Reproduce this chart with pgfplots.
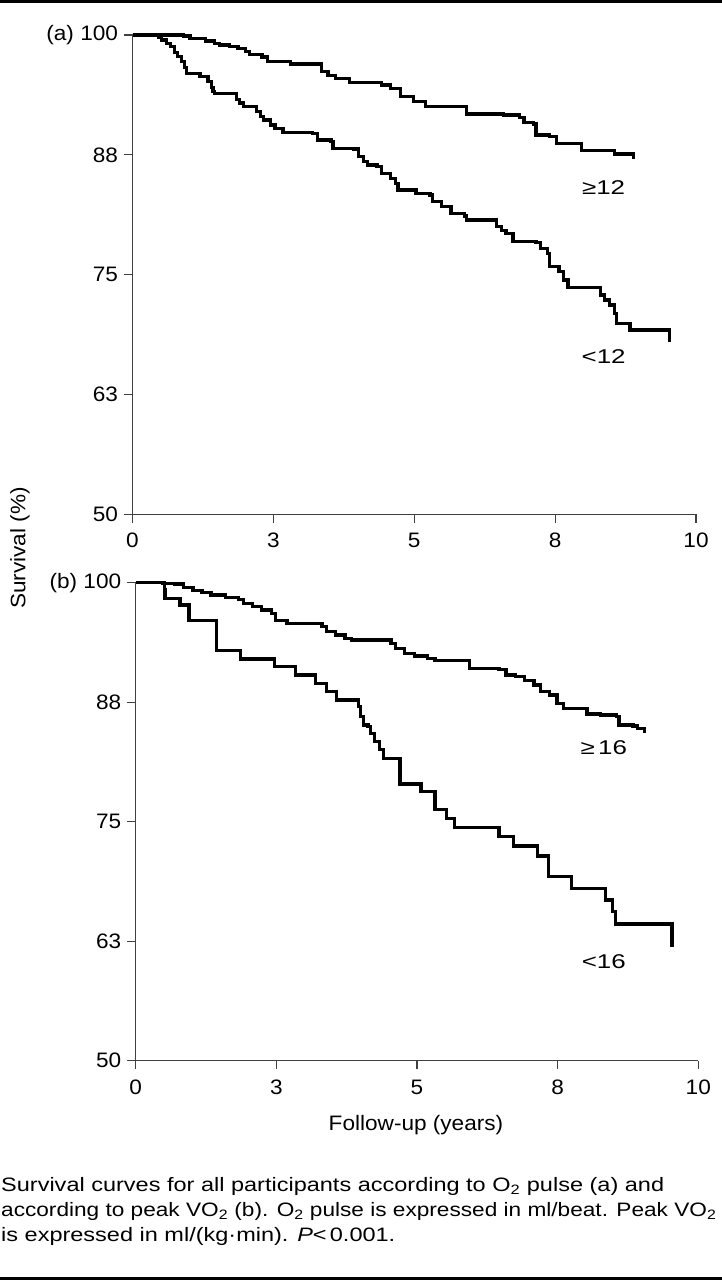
\documentclass[border=0pt]{standalone}
\usepackage{pgfplots}
\pgfplotsset{compat=1.18}
\usepackage{fontspec}
\setmainfont{Liberation Sans}
\newfontfamily\axfont{Liberation Sans}[FakeStretch=1.08]
\newfontfamily\labfont{Liberation Sans}[FakeStretch=1.3]
\newfontfamily\capfontA{Liberation Sans}[FakeStretch=1.21]
\newfontfamily\capfontB{Liberation Sans}[FakeStretch=1.165]
\definecolor{axgray}{RGB}{64,64,64}
\pgfplotsset{
  km/.style={
    scale only axis,
    xmin=0, xmax=10, ymin=50, ymax=100,
    axis lines=left,
    axis line style={-, line width=1.2bp, draw=axgray},
    tick style={line width=1.2bp, draw=axgray},
    tick align=outside,
    major tick length=8.5bp,
    xtick={0,2.5,5,7.5,10},
    xticklabels={0,3,5,8,10},
    ytick={50,62.5,75,87.5,100},
    tick label style={font=\axfont\fontsize{21}{21}\selectfont, text=black},
    xticklabel style={yshift=-7bp},
    yticklabel style={xshift=-2.5bp},
    clip=false,
  },
  curve/.style={const plot, line width=3.3bp, black, mark=none, line join=miter},
}
\tikzset{lab/.style={font=\labfont\fontsize{20}{20}\selectfont, anchor=center}}
\begin{document}
\begin{tikzpicture}
\useasboundingbox (0,0) rectangle (722bp,-1280bp);
\draw[line width=2.7bp] (0,-1.35bp) -- (722bp,-1.35bp);
\draw[line width=2.7bp] (0,-1278.5bp) -- (722bp,-1278.5bp);

% Panel (a)
\begin{axis}[km, at={(132.5bp,-514.3bp)}, anchor=south west,
  width=563.5bp, height=479.3bp,
  yticklabels={50,63,75,88,{(a) 100}}]
\addplot[curve] coordinates {
(0,100) (0.91,99.9) (1.02,99.65) (1.29,99.37) (1.46,99.13) (1.55,98.96) (1.72,98.78)
(1.87,98.6) (2.00,98.3) (2.08,97.97) (2.30,97.7) (2.40,97.2) (2.80,96.97)
(3.36,96.18) (3.47,95.8) (3.60,95.48) (3.85,95.03) (4.42,94.78) (4.58,94.44)
(4.75,93.57) (4.99,93.05) (5.20,92.52) (5.93,91.76) (6.58,91.66) (6.87,91.41)
(6.95,90.86) (7.12,90.72) (7.16,89.57) (7.40,89.4) (7.52,88.70) (7.97,87.93)
(8.55,87.59) (8.89,87.59) (8.891,87.03)
};
\addplot[curve] coordinates {
(0,100) (0.46,99.8) (0.52,99.48) (0.60,99.13) (0.68,98.78) (0.74,98.2) (0.80,97.74)
(0.87,97.2) (0.92,96.6) (0.96,96.0) (1.20,95.65) (1.34,95.13) (1.40,94.5) (1.43,94.09)
(1.46,93.92) (1.85,93.3) (1.90,92.9) (1.97,92.52) (2.20,92.0) (2.27,91.48)
(2.32,91.13) (2.45,90.61) (2.53,90.26) (2.67,89.85) (3.19,89.74) (3.28,89.05)
(3.52,88.87) (3.56,88.18) (3.93,88.11) (4.01,87.31) (4.10,86.8) (4.17,86.44)
(4.34,86.27) (4.42,85.57) (4.58,85.05) (4.67,84.53) (4.71,83.83) (5.03,83.48)
(5.28,83.31) (5.32,82.61) (5.48,82.09) (5.65,81.40) (5.89,81.12) (5.93,80.70)
(6.42,80.70) (6.46,80.01) (6.55,79.6) (6.63,79.31) (6.75,78.44) (7.16,78.34)
(7.24,77.75) (7.36,77.23) (7.40,75.83) (7.57,75.31) (7.65,74.44) (7.73,73.68)
(8.30,72.88) (8.38,72.36) (8.46,71.84) (8.55,70.97) (8.59,69.92) (8.83,69.23)
(9.53,69.23) (9.531,68.01)
};
\node[lab] at (axis cs:8.36,84.1) {≥12};
\node[lab] at (axis cs:8.36,66.45) {<12};
\end{axis}

% Panel (b)
\begin{axis}[km, at={(135.7bp,-1060.7bp)}, anchor=south west,
  width=562.6bp, height=478bp,
  yticklabels={50,63,75,88,{(b) 100}}]
\addplot[curve] coordinates {
(0,100) (0.48,99.95) (0.69,99.85) (0.85,99.51) (1.02,99.16) (1.18,98.95) (1.34,98.71)
(1.59,98.47) (1.83,98.26) (1.92,97.84) (2.08,97.49) (2.24,97.14) (2.41,96.79)
(2.49,96.03) (2.69,95.75) (3.23,95.75) (3.31,95.40) (3.39,94.87) (3.55,94.53)
(3.72,94.18) (3.84,94.00) (4.41,94.00) (4.54,93.65) (4.62,93.13) (4.78,92.61)
(4.95,92.33) (5.19,92.09) (5.32,91.84) (5.93,91.04) (6.46,90.93) (6.58,90.34)
(6.75,90.17) (6.91,89.75) (7.08,89.30) (7.20,88.60) (7.36,88.25) (7.49,87.38)
(7.61,86.85) (8.02,86.26) (8.26,86.16) (8.55,85.98) (8.59,85.11) (8.84,85.01)
(8.92,84.76) (9.04,84.76) (9.041,84.31)
};
\addplot[curve] coordinates {
(0,100) (0.48,100) (0.51,99.23) (0.52,98.36) (0.79,97.66) (0.95,96.03) (1.43,92.89)
(1.86,92.02) (2.47,91.21) (2.84,90.34) (3.19,89.47) (3.39,88.60) (3.57,87.73)
(3.96,87.03) (4.00,85.98) (4.05,85.11) (4.13,84.94) (4.17,84.24) (4.25,83.37)
(4.33,82.57) (4.41,81.62) (4.70,78.94) (5.07,78.14) (5.32,76.29) (5.52,75.35)
(5.67,74.41) (6.46,73.43) (6.71,72.45) (7.14,71.41) (7.34,69.25) (7.75,68.03)
(8.35,66.81) (8.47,65.59) (8.53,64.30) (9.53,64.30) (9.531,61.92)
};
\node[lab] at (axis cs:8.32,82.7) {≥\,16};
\node[lab] at (axis cs:8.32,60.4) {<16};
\end{axis}

\node[font=\axfont\fontsize{21}{21}\selectfont, rotate=90] at (20bp,-548bp) {Survival (\%)};
\node[font=\axfont\fontsize{21}{21}\selectfont, anchor=base] at (416bp,-1130bp) {Follow-up (years)};

\begin{scope}[every node/.style={anchor=base west, inner sep=0pt}]
\node[font=\capfontA\fontsize{19.5}{19.5}\selectfont] at (1bp,-1191.7bp) {Survival curves for all participants according to O\textsubscript{2} pulse (a) and};
\node[font=\capfontB\fontsize{19.5}{19.5}\selectfont] at (1bp,-1216.7bp) {according to peak VO\textsubscript{2} (b). O\textsubscript{2} pulse is expressed in ml/beat. Peak VO\textsubscript{2}};
\node[font=\capfontA\fontsize{19.5}{19.5}\selectfont] at (1bp,-1241.7bp) {is expressed in ml/(kg·min). {\fontspec{Liberation Sans}[FakeStretch=1.21]\itshape P}<\,0.001.};
\end{scope}
\end{tikzpicture}
\end{document}
